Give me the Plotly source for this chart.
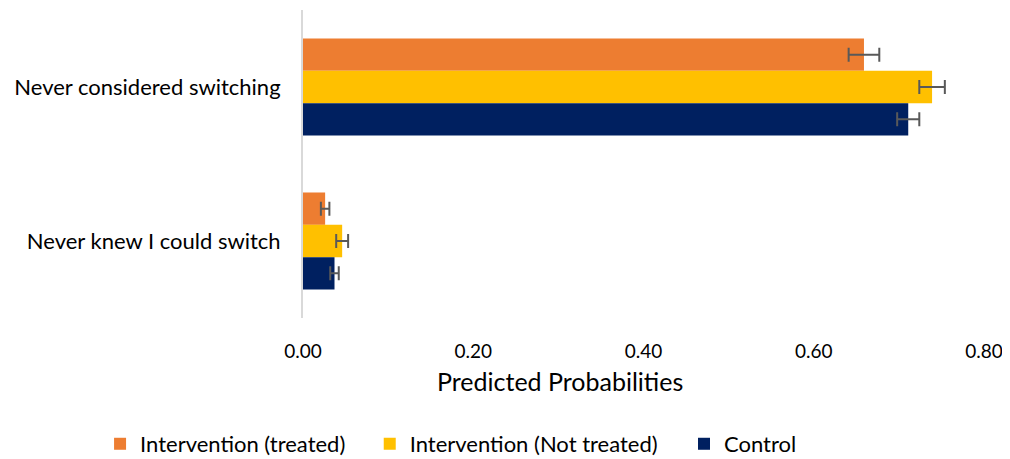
import plotly.graph_objects as go

categories = ["Never considered switching", "Never knew I could switch"]
series_names = ["Intervention (treated)", "Intervention (Not treated)", "Control"]
treated = [0.659, 0.026]
not_treated = [0.739, 0.046]
control = [0.711, 0.037]
err_treated = [0.018, 0.005]
err_not_treated = [0.015, 0.007]
err_control = [0.013, 0.005]
colors = ["#ED7D31", "#FFC000", "#002060"]
tick_vals = [0, 0.2, 0.4, 0.6, 0.8]
tick_text = ["0.00", "0.20", "0.40", "0.60", "0.80"]
axis_title = "Predicted Probabilities"

FONT = "Lato, Carlito, Calibri, sans-serif"

# page body has an 8px default margin; compensate in figure size/margins
W, H = 1002, 451
legend_names = ["legend", "legend2", "legend3"]
legend_x = [-0.298, 0.098, 0.5595]

fig = go.Figure()
for name, vals, errs, col, lg in zip(series_names, [treated, not_treated, control],
                                     [err_treated, err_not_treated, err_control], colors,
                                     legend_names):
    fig.add_trace(go.Bar(
        name=name, y=categories, x=vals, orientation="h",
        marker=dict(color=col, line=dict(width=0)),
        error_x=dict(type="data", array=errs, visible=True,
                     color="#595959", thickness=2, width=7),
        legend=lg,
    ))

legend_common = dict(orientation="h", xanchor="left", y=-0.409, yanchor="middle",
                     font=dict(size=22), bgcolor="rgba(0,0,0,0)")

fig.update_layout(
    width=W, height=H,
    margin=dict(l=295, r=26, t=2, b=141, autoexpand=False),
    barmode="group", bargap=0.37, bargroupgap=0,
    plot_bgcolor="white", paper_bgcolor="white",
    font=dict(family=FONT, size=20, color="#000000"),
    showlegend=True,
    legend=dict(x=legend_x[0], **legend_common),
    legend2=dict(x=legend_x[1], **legend_common),
    legend3=dict(x=legend_x[2], **legend_common),
    annotations=[dict(text=axis_title, xref="paper", yref="paper", x=0.377, y=-0.2045,
                      xanchor="center", yanchor="middle", showarrow=False,
                      font=dict(size=25))],
)
fig.update_xaxes(range=[0, 0.8], tickvals=tick_vals, ticktext=tick_text,
                 showgrid=False, zeroline=False, showline=False, automargin=False,
                 ticks="outside", ticklen=16, tickcolor="rgba(0,0,0,0)",
                 tickfont=dict(size=19))
fig.update_yaxes(autorange="reversed", showgrid=False, zeroline=False, automargin=False,
                 showline=True, linecolor="#D9D9D9", linewidth=2,
                 ticks="outside", ticklen=16, tickcolor="rgba(0,0,0,0)",
                 tickfont=dict(size=22))

fig.write_html("out.html")
